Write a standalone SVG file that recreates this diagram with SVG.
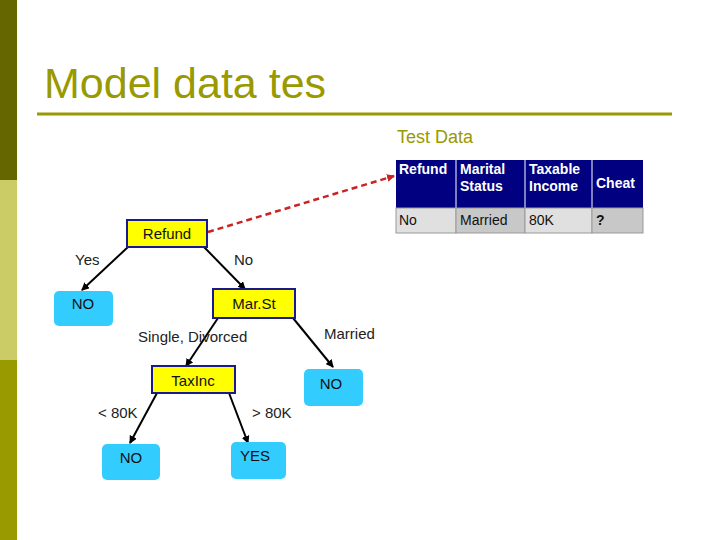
<svg xmlns="http://www.w3.org/2000/svg" width="720" height="540" viewBox="0 0 720 540">
<style>
text{font-family:"Liberation Sans",Arial,sans-serif}
.y{fill:#ffff00;stroke:#1a1a8c;stroke-width:2}
.b{fill:#33ccff}
.nt{font-size:15px;fill:#111;text-anchor:middle}
.lb{font-size:15px;fill:#222}
.e{stroke:#000;stroke-width:2;marker-end:url(#a)}
.th{font-size:14px;font-weight:bold;fill:#fff}
.td{font-size:14px;fill:#111}
</style>
<defs><marker id="a" markerWidth="8" markerHeight="8" refX="7" refY="4" orient="auto" markerUnits="userSpaceOnUse"><path d="M0,0L8,4L0,8z" fill="#000"/></marker>
<marker id="r" markerWidth="8" markerHeight="8" refX="7" refY="4" orient="auto" markerUnits="userSpaceOnUse"><path d="M0,0L8,4L0,8z" fill="#cc2222"/></marker></defs>
<rect width="720" height="540" fill="#fff"/>
<rect x="0" y="0" width="17" height="180" fill="#666600"/>
<rect x="0" y="180" width="17" height="180" fill="#cccc66"/>
<rect x="0" y="360" width="17" height="180" fill="#999900"/>
<text x="44" y="98" font-size="43" fill="#999900">Model data tes</text>
<line x1="37" y1="114" x2="672" y2="114" stroke="#999900" stroke-width="3"/>
<text x="397" y="143" font-size="18" fill="#999900">Test Data</text>
<g id="table">
<rect x="396" y="160" width="247" height="48" fill="#000080"/>
<line x1="456" y1="160" x2="456" y2="208" stroke="#fff"/>
<line x1="525" y1="160" x2="525" y2="208" stroke="#fff"/>
<line x1="592" y1="160" x2="592" y2="208" stroke="#fff"/>
<rect x="396" y="208" width="60" height="25" fill="#e0e0e0" stroke="#999"/>
<rect x="456" y="208" width="69" height="25" fill="#c8c8c8" stroke="#999"/>
<rect x="525" y="208" width="67" height="25" fill="#e0e0e0" stroke="#999"/>
<rect x="592" y="208" width="51" height="25" fill="#c8c8c8" stroke="#999"/>
<text class="th" x="399" y="174">Refund</text>
<text class="th" x="460" y="174">Marital</text><text class="th" x="460" y="191">Status</text>
<text class="th" x="529" y="174">Taxable</text><text class="th" x="529" y="191">Income</text>
<text class="th" x="596" y="188">Cheat</text>
<text class="td" x="399" y="225">No</text>
<text class="td" x="460" y="225">Married</text>
<text class="td" x="529" y="225">80K</text>
<text class="td" x="596" y="225" font-weight="bold">?</text>
</g>
<g id="connectors">
<line x1="208" y1="232" x2="394" y2="176" stroke="#cc2222" stroke-width="2.5" stroke-dasharray="6,4" marker-end="url(#r)"/>
<line class="e" x1="128" y1="247" x2="82" y2="290"/>
<line class="e" x1="204" y1="247" x2="245" y2="289"/>
<line class="e" x1="218" y1="318" x2="186" y2="366"/>
<line class="e" x1="293" y1="318" x2="333" y2="367"/>
<line class="e" x1="157" y1="393" x2="130" y2="443"/>
<line class="e" x1="229" y1="393" x2="248" y2="443"/>
<text class="lb" x="75" y="265">Yes</text>
<text class="lb" x="234" y="265">No</text>
<text class="lb" x="138" y="342">Single, Divorced</text>
<text class="lb" x="324" y="339">Married</text>
<text class="lb" x="98" y="418">&lt; 80K</text>
<text class="lb" x="252" y="418">&gt; 80K</text>
</g>
<g id="refund"><rect class="y" x="127" y="220" width="80" height="27"/><text class="nt" x="167" y="239">Refund</text></g>
<g id="no1"><rect class="b" x="54" y="291" width="59" height="35" rx="5"/><text class="nt" x="83" y="309">NO</text></g>
<g id="marst"><rect class="y" x="213" y="289" width="82" height="29"/><text class="nt" x="254" y="309">Mar.St</text></g>
<g id="taxinc"><rect class="y" x="152" y="366" width="83" height="27"/><text class="nt" x="193" y="386">TaxInc</text></g>
<g id="no2"><rect class="b" x="304" y="369" width="59" height="37" rx="5"/><text class="nt" x="331" y="389">NO</text></g>
<g id="no3"><rect class="b" x="102" y="444" width="58" height="36" rx="5"/><text class="nt" x="131" y="463">NO</text></g>
<g id="yes"><rect class="b" x="231" y="442" width="55" height="37" rx="5"/><text class="nt" x="255" y="461">YES</text></g>
</svg>
